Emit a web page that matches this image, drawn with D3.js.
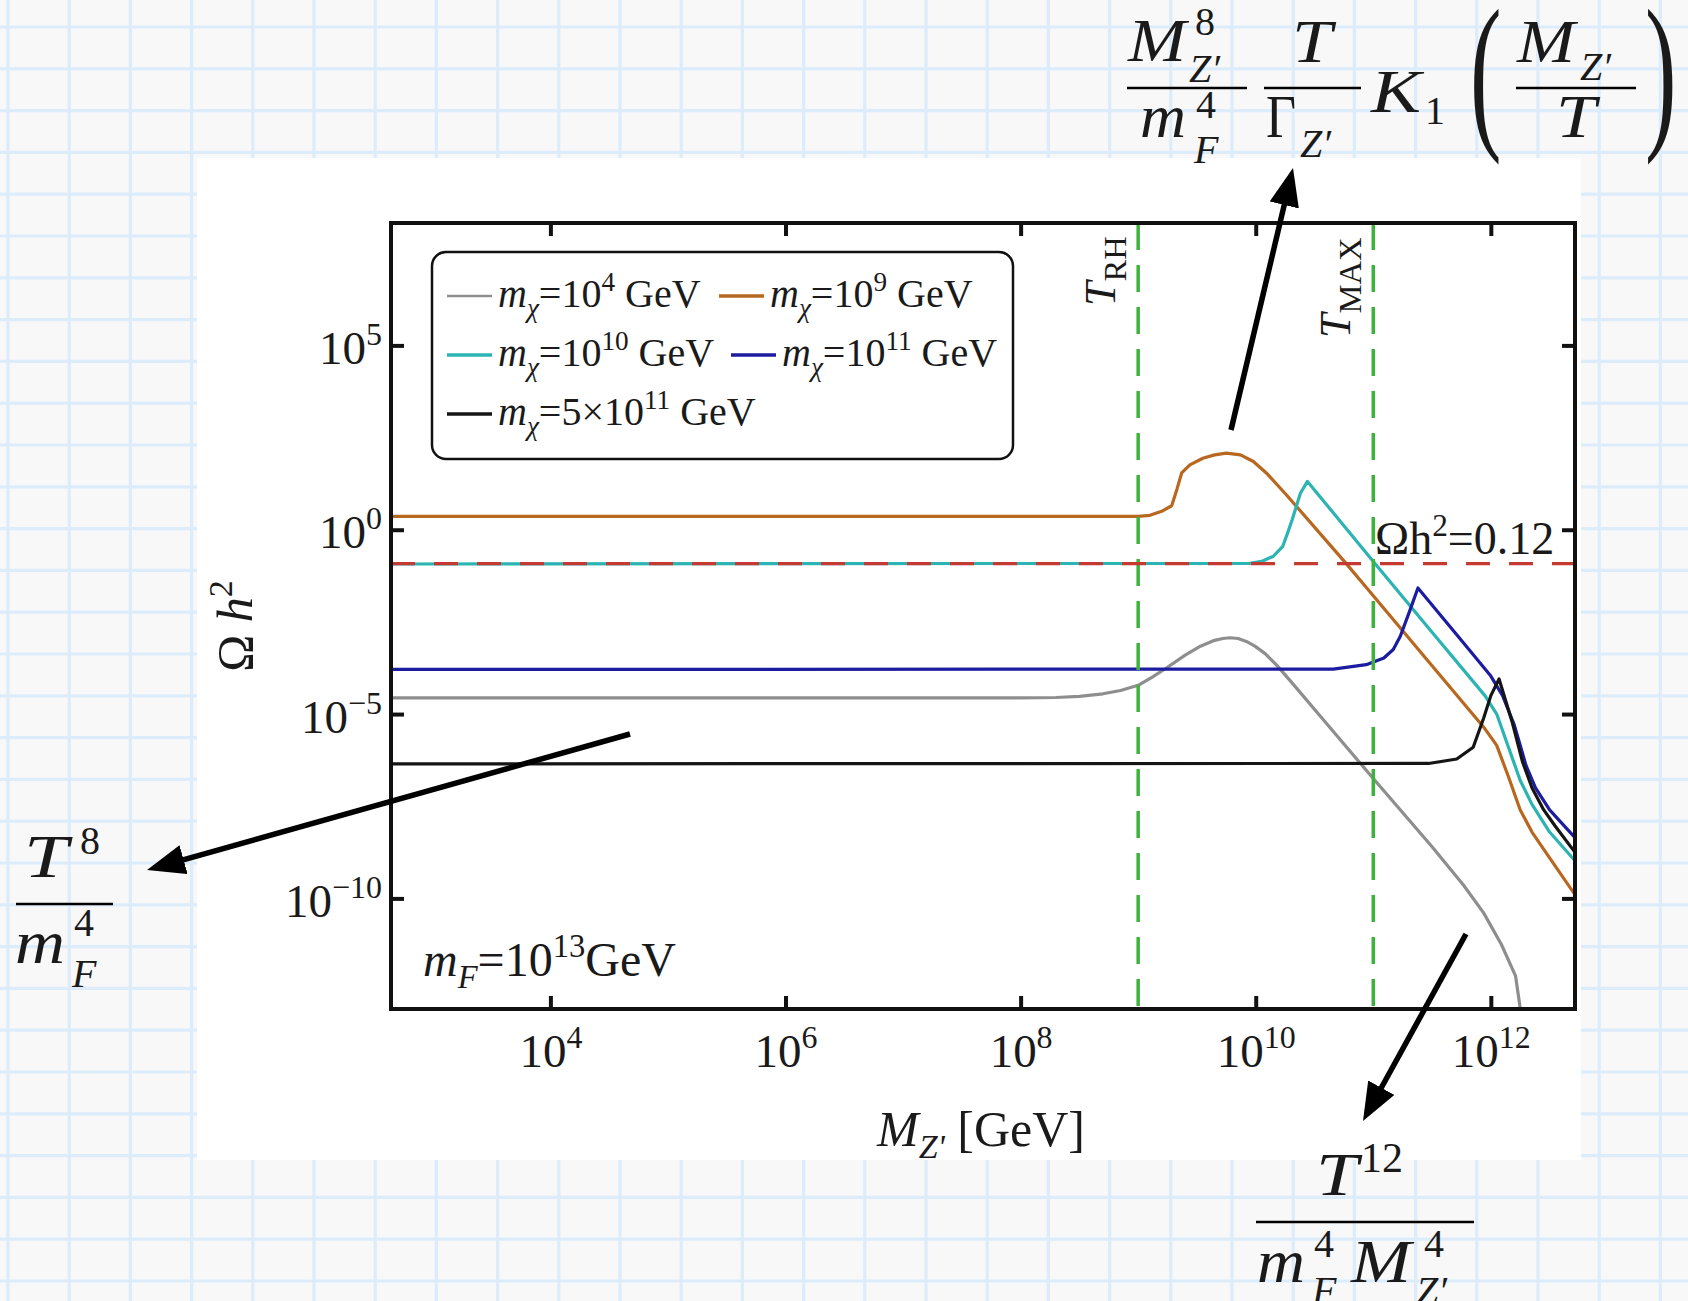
<!DOCTYPE html>
<html>
<head>
<meta charset="utf-8">
<script src="https://cdn.jsdelivr.net/npm/d3@7"></script>
<style>
  html, body { margin: 0; padding: 0; background: #f8f8f8; }
  svg { display: block; }
  text { font-family: "Liberation Serif", "Times New Roman", serif; fill: #1a1a1a; }
</style>
</head>
<body>
<svg id="fig" width="1688" height="1301"></svg>
<script>
// ---- Relic abundance Omega h^2 versus Z' mass, m_F = 10^13 GeV ----
// All curve values are log10 of M_Z' [GeV] and log10 of Omega h^2.

const xTickValues = [1e4, 1e6, 1e8, 1e10, 1e12];
const xTickExp    = ["4", "6", "8", "10", "12"];
const yTickValues = [1e5, 1, 1e-5, 1e-10];
const yTickExp    = ["5", "0", "\u22125", "\u221210"];

const xDomainLog = [2.644, 12.716];
const yDomainLog = [-13, 8.32];

const tReheat = 1e9;     // T_RH
const tMax    = 1e11;    // T_MAX
const omegaObs = 0.12;   // observed relic density

// m_chi = 10^4 GeV
const grayLogM     = [2.644, 8.0, 8.3, 8.5, 8.7, 8.85, 9.0, 9.12, 9.24, 9.4, 9.53, 9.65, 9.72, 9.78, 9.85, 9.92, 9.99, 10.08, 10.18, 10.3, 10.55, 11.0, 11.5, 11.77, 11.94, 12.09, 12.21, 12.26];
const grayLogOmega = [-4.56, -4.56, -4.55, -4.52, -4.45, -4.36, -4.22, -4.0, -3.75, -3.40, -3.16, -3.0, -2.95, -2.93, -2.95, -3.03, -3.15, -3.36, -3.68, -4.12, -5.06, -6.75, -8.6, -9.65, -10.4, -11.25, -12.1, -13.2];

// m_chi = 10^9 GeV
const orangeLogM     = [2.644, 9.0, 9.1, 9.2, 9.285, 9.33, 9.37, 9.44, 9.55, 9.65, 9.75, 9.87, 9.98, 10.09, 10.26, 10.77, 11.0, 11.5, 11.95, 12.05, 12.15, 12.25, 12.35, 12.5, 12.716];
const orangeLogOmega = [0.36, 0.36, 0.39, 0.50, 0.65, 1.1, 1.54, 1.76, 1.94, 2.03, 2.08, 2.03, 1.85, 1.54, 0.95, -0.92, -1.79, -3.69, -5.4, -5.85, -6.7, -7.6, -8.2, -8.9, -9.9];

// m_chi = 10^10 GeV
const cyanLogM     = [2.644, 9.95, 10.05, 10.15, 10.23, 10.27, 10.31, 10.38, 10.44, 11.0, 11.5, 11.95, 12.05, 12.15, 12.25, 12.35, 12.5, 12.716];
const cyanLogOmega = [-0.93, -0.91, -0.86, -0.72, -0.45, -0.1, 0.27, 0.99, 1.31, -0.86, -2.78, -4.5, -5.0, -5.9, -6.8, -7.45, -8.2, -8.98];

// m_chi = 10^11 GeV
const blueLogM     = [2.644, 10.66, 10.94, 11.09, 11.17, 11.23, 11.31, 11.38, 11.77, 12.0, 12.1, 12.2, 12.3, 12.38, 12.5, 12.716];
const blueLogOmega = [-3.79, -3.78, -3.66, -3.48, -3.25, -2.89, -2.2, -1.58, -3.08, -3.97, -4.5, -5.3, -6.4, -7.0, -7.6, -8.35];

// m_chi = 5x10^11 GeV
const blackLogM     = [2.644, 11.47, 11.71, 11.85, 11.94, 12.0, 12.07, 12.18, 12.27, 12.35, 12.45, 12.55, 12.716];
const blackLogOmega = [-6.35, -6.34, -6.22, -5.9, -5.1, -4.5, -4.05, -5.2, -6.3, -7.0, -7.6, -8.05, -8.75];

const seriesMass   = [["10", "4"], ["10", "9"], ["10", "10"], ["10", "11"], ["5\u00d710", "11"]];
const seriesColors = ["#8e8e8e", "#b8671f", "#2cb3b3", "#1c1ca0", "#151515"];
const seriesData = [
  [grayLogM, grayLogOmega],
  [orangeLogM, orangeLogOmega],
  [cyanLogM, cyanLogOmega],
  [blueLogM, blueLogOmega],
  [blackLogM, blackLogOmega]
];

// ---- layout ----
const W = 1688, H = 1301;
const plot = { left: 391, right: 1575, top: 223, bottom: 1009 };

const svg = d3.select("#fig");

// rich text: parts = [[string, kind]], kind contains 'i' italic, '^' sup, '_' sub
function rich(textSel, parts, size, ratio) {
  const r = ratio || 0.68;
  let cur = 0;
  parts.forEach(([str, kind]) => {
    let off = 0, fs = size;
    if (kind.includes("^")) { off = -0.40 * size; fs = r * size; }
    if (kind.includes("_")) { off = 0.24 * size; fs = r * size; }
    textSel.append("tspan")
      .attr("dy", off - cur)
      .attr("font-size", fs)
      .attr("font-style", kind.includes("i") ? "italic" : "normal")
      .text(str);
    cur = off;
  });
  return textSel;
}

// ---- graph-paper background ----
const bg = svg.append("g");
bg.append("rect").attr("width", W).attr("height", H).attr("fill", "#f8f8f8");
d3.range(0, 29).forEach(k => {
  const gx = 8 + 61.2 * k;
  bg.append("line").attr("x1", gx).attr("x2", gx).attr("y1", 0).attr("y2", H)
    .attr("stroke", "#dcecfb").attr("stroke-width", 3.2);
});
d3.range(0, 32).forEach(k => {
  const gy = 27 + 41.8 * k;
  bg.append("line").attr("x1", 0).attr("x2", W).attr("y1", gy).attr("y2", gy)
    .attr("stroke", "#dcecfb").attr("stroke-width", 3.2);
});

// white figure panel
svg.append("rect").attr("x", 197).attr("y", 158).attr("width", 1384).attr("height", 1002).attr("fill", "#ffffff");

// ---- scales ----
const x = d3.scaleLog().domain(xDomainLog.map(v => Math.pow(10, v))).range([plot.left, plot.right]);
const y = d3.scaleLog().domain(yDomainLog.map(v => Math.pow(10, v))).range([plot.bottom, plot.top]);

svg.append("defs").append("clipPath").attr("id", "plotClip")
  .append("rect").attr("x", plot.left).attr("y", plot.top)
  .attr("width", plot.right - plot.left).attr("height", plot.bottom - plot.top);

const area = svg.append("g").attr("clip-path", "url(#plotClip)");

// ---- curves ----
const line = d3.line()
  .x(d => x(Math.pow(10, d[0])))
  .y(d => y(Math.pow(10, d[1])))
  .curve(d3.curveLinear);

seriesData.forEach(([lm, lo], i) => {
  const pts = lm.map((v, j) => [v, lo[j]]);
  area.append("path").datum(pts)
    .attr("d", line)
    .attr("fill", "none")
    .attr("stroke", seriesColors[i])
    .attr("stroke-width", 3.2)
    .attr("stroke-linejoin", "round");
});

// temperature markers
[tReheat, tMax].forEach(t => {
  area.append("line")
    .attr("x1", x(t)).attr("x2", x(t))
    .attr("y1", plot.top).attr("y2", plot.bottom)
    .attr("stroke", "#3cb43c").attr("stroke-width", 3.5)
    .attr("stroke-dasharray", "27 15");
});

// observed relic density
area.append("line")
  .attr("x1", plot.left).attr("x2", plot.right)
  .attr("y1", y(omegaObs)).attr("y2", y(omegaObs))
  .attr("stroke", "#c43a33").attr("stroke-width", 3.2)
  .attr("stroke-dasharray", "24 19");

// ---- frame and axes (ticks point inward) ----
svg.append("rect")
  .attr("x", plot.left).attr("y", plot.top)
  .attr("width", plot.right - plot.left).attr("height", plot.bottom - plot.top)
  .attr("fill", "none").attr("stroke", "#111").attr("stroke-width", 4);

function styleAxis(g) {
  g.select(".domain").remove();
  g.selectAll(".tick line").attr("stroke", "#111").attr("stroke-width", 4);
}

const xBottom = svg.append("g").attr("transform", `translate(0,${plot.bottom})`)
  .call(d3.axisBottom(x).tickValues(xTickValues).tickSize(-13).tickFormat(""))
  .call(styleAxis);
svg.append("g").attr("transform", `translate(0,${plot.top})`)
  .call(d3.axisTop(x).tickValues(xTickValues).tickSize(-13).tickFormat(""))
  .call(styleAxis);
const yLeft = svg.append("g").attr("transform", `translate(${plot.left},0)`)
  .call(d3.axisLeft(y).tickValues(yTickValues).tickSize(-13).tickFormat(""))
  .call(styleAxis);
svg.append("g").attr("transform", `translate(${plot.right},0)`)
  .call(d3.axisRight(y).tickValues(yTickValues).tickSize(-13).tickFormat(""))
  .call(styleAxis);

xBottom.selectAll(".tick").each(function (d, i) {
  const t = d3.select(this).append("text")
    .attr("x", 0).attr("y", 58).attr("text-anchor", "middle");
  rich(t, [["10", "n"], [xTickExp[i], "^"]], 47);
});
yLeft.selectAll(".tick").each(function (d, i) {
  const t = d3.select(this).append("text")
    .attr("x", -9).attr("y", 18).attr("text-anchor", "end");
  rich(t, [["10", "n"], [yTickExp[i], "^"]], 47);
});

// axis titles
rich(svg.append("text").attr("x", 981).attr("y", 1146).attr("text-anchor", "middle"),
  [["M", "i"], ["Z'", "_i"], [" [GeV]", "n"]], 50);
rich(svg.append("text").attr("transform", "translate(252,626) rotate(-90)").attr("text-anchor", "middle"),
  [["\u03a9 ", "n"], ["h", "i"], ["2", "^"]], 50);

// marker labels
rich(svg.append("text").attr("transform", `translate(${x(tReheat) - 23},306) rotate(-90)`),
  [["T", "i"], ["RH", "_"]], 44, 0.74);
rich(svg.append("text").attr("transform", `translate(${x(tMax) - 23},338) rotate(-90)`),
  [["T", "i"], ["MAX", "_"]], 44, 0.74);
rich(svg.append("text").attr("x", 1375).attr("y", 554),
  [["\u03a9h", "n"], ["2", "^"], ["=0.12", "n"]], 46);
rich(svg.append("text").attr("x", 423).attr("y", 976),
  [["m", "i"], ["F", "_i"], ["=10", "n"], ["13", "^"], ["GeV", "n"]], 48);

// ---- legend ----
const legend = svg.append("g");
legend.append("rect").attr("x", 432).attr("y", 252).attr("width", 581).attr("height", 207)
  .attr("rx", 14).attr("fill", "#fff").attr("stroke", "#111").attr("stroke-width", 2.5);
const legendPos = [[447, 296], [719, 296], [447, 355], [731, 355], [447, 414]];
seriesMass.forEach((mass, i) => {
  const [lx, ly] = legendPos[i];
  legend.append("line").attr("x1", lx).attr("x2", lx + 45).attr("y1", ly).attr("y2", ly)
    .attr("stroke", seriesColors[i]).attr("stroke-width", i === 0 ? 2.6 : 3.4);
  rich(legend.append("text").attr("x", lx + 51).attr("y", ly + 11),
    [["m", "i"], ["\u03c7", "_i"], ["=" + mass[0], "n"], [mass[1], "^"], [" GeV", "n"]], 40);
});

// ---- annotations: asymptotic scalings ----
const ann = svg.append("g");
const defs = svg.select("defs");
defs.append("marker").attr("id", "head")
  .attr("markerUnits", "userSpaceOnUse")
  .attr("markerWidth", 44).attr("markerHeight", 32)
  .attr("refX", 38).attr("refY", 15).attr("orient", "auto")
  .append("path").attr("d", "M0,0 L38,15 L0,30 Z").attr("fill", "#000");

function arrow(x1, y1, x2, y2) {
  const dx = x2 - x1, dy = y2 - y1, len = Math.hypot(dx, dy);
  const ux = dx / len, uy = dy / len;
  ann.append("line")
    .attr("x1", x1).attr("y1", y1)
    .attr("x2", x2 - ux * 20).attr("y2", y2 - uy * 20)
    .attr("stroke", "#000").attr("stroke-width", 5.5);
  ann.append("line")
    .attr("x1", x2 - ux * 21).attr("y1", y2 - uy * 21)
    .attr("x2", x2).attr("y2", y2)
    .attr("stroke", "none")
    .attr("marker-end", "url(#head)");
}
arrow(1231, 430, 1293, 168);
arrow(630, 734, 147, 870);
arrow(1466, 934, 1363, 1121);

// math glyph; width (optional) sets the drawn ink width of wide letters
function mt(px, py, str, size, italic, width, anchor) {
  const t = ann.append("text").attr("x", px).attr("y", py)
    .attr("font-size", size)
    .attr("font-style", italic ? "italic" : "normal")
    .attr("text-anchor", anchor || "start")
    .text(str);
  if (width) t.attr("textLength", width).attr("lengthAdjust", "spacingAndGlyphs");
  return t;
}
function bar(x1, x2, yy) {
  ann.append("line").attr("x1", x1).attr("x2", x2).attr("y1", yy).attr("y2", yy)
    .attr("stroke", "#000").attr("stroke-width", 2.6);
}

// M_Z'^8 / m_F^4  *  T / Gamma_Z'  *  K_1( M_Z' / T )
mt(1128, 61, "M", 62, true, 58);
mt(1195, 35, "8", 40, false);
mt(1189, 82, "Z\u2032", 40, true);
bar(1127, 1247, 88);
mt(1140, 137, "m", 62, true, 46);
mt(1196, 118, "4", 40, false);
mt(1194, 163, "F", 40, true);

mt(1292, 62, "T", 62, true, 40);
bar(1264, 1361, 88);
mt(1266, 137, "\u0393", 62, false, 30);
mt(1300, 157, "Z\u2032", 40, true);

mt(1371, 112, "K", 62, true, 50);
mt(1425, 124, "1", 40, false);

ann.append("text").attr("transform", "translate(1470,128) scale(0.55,1)")
  .attr("font-size", 172).text("(");
ann.append("text").attr("transform", "translate(1645,128) scale(0.55,1)")
  .attr("font-size", 172).text(")");

mt(1517, 62, "M", 62, true, 58);
mt(1580, 80, "Z\u2032", 40, true);
bar(1516, 1636, 88);
mt(1556, 137, "T", 62, true, 40);

// T^8 / m_F^4
mt(24, 877, "T", 62, true, 44);
mt(80, 854, "8", 40, false);
bar(16, 113, 904);
mt(15, 963, "m", 62, true, 50);
mt(74, 936, "4", 40, false);
mt(72, 987, "F", 40, true);

// T^12 / (m_F^4 M_Z'^4)
mt(1316, 1195, "T", 62, true, 42);
mt(1361, 1172, "12", 42, false);
bar(1256, 1474, 1222);
mt(1257, 1282, "m", 62, true, 48);
mt(1314, 1257, "4", 40, false);
mt(1312, 1304, "F", 40, true);
mt(1351, 1282, "M", 62, true, 60);
mt(1424, 1257, "4", 40, false);
mt(1416, 1304, "Z\u2032", 40, true);
</script>
</body>
</html>
